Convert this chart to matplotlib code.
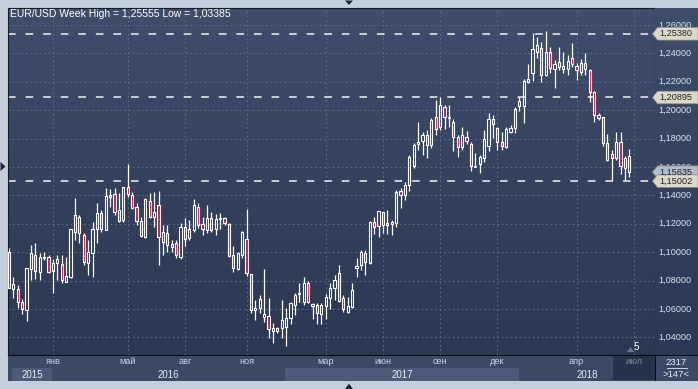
import numpy as np
import matplotlib
matplotlib.use('Agg')
import matplotlib.pyplot as plt
from matplotlib.patches import Rectangle, Polygon
from matplotlib.colors import LinearSegmentedColormap

plt.rcParams['font.family'] = ['Liberation Sans', 'DejaVu Sans']

# ---------------- data (weekly EUR/USD candles) ----------------
opens = [1.1000, 1.0738, 1.0738, 1.0647, 1.0593, 1.0879, 1.0978, 1.0863, 1.0962, 1.0969,
         1.0870, 1.0922, 1.0915, 1.0793, 1.0823, 1.1145, 1.1246, 1.1121, 1.0922, 1.0992,
         1.1161, 1.1274, 1.1156, 1.1391, 1.1410, 1.1297, 1.1227, 1.1457, 1.1403, 1.1316,
         1.1220, 1.1109, 1.1360, 1.1250, 1.1332, 1.1074, 1.1133, 1.1058, 1.1062, 1.0964,
         1.1175, 1.1098, 1.1156, 1.1316, 1.1198, 1.1156, 1.1238, 1.1161, 1.1231, 1.1238,
         1.1199, 1.0980, 1.0879, 1.0980, 1.1091, 1.0846, 1.0593, 1.0605, 1.0541, 1.0551,
         1.0447, 1.0447, 1.0464, 1.0476, 1.0535, 1.0629, 1.0703, 1.0652, 1.0786, 1.0621,
         1.0628, 1.0565, 1.0621, 1.0680, 1.0745, 1.0851, 1.0675, 1.0581, 1.0612, 1.0886,
         1.0910, 1.0997, 1.0926, 1.1215, 1.1185, 1.1285, 1.1192, 1.1199, 1.1203, 1.1431,
         1.1403, 1.1473, 1.1608, 1.1763, 1.1786, 1.1826, 1.1755, 1.1950, 1.1880, 1.2020,
         1.1943, 1.1919, 1.1809, 1.1743, 1.1809, 1.1760, 1.1601, 1.1621, 1.1661, 1.1750,
         1.1936, 1.1877, 1.1774, 1.1738, 1.1849, 1.1872, 1.2067, 1.2030, 1.2201, 1.2260,
         1.2412, 1.2436, 1.2248, 1.2412, 1.2288, 1.2342, 1.2311, 1.2288, 1.2365, 1.2314,
         1.2271, 1.2330, 1.2283, 1.2126, 1.1966, 1.1950, 1.1767, 1.1689, 1.1661, 1.1774,
         1.1595, 1.1677]
highs = [1.1027, 1.0828, 1.0769, 1.0668, 1.0890, 1.1051, 1.1067, 1.0992, 1.1002, 1.0980,
         1.0950, 1.0980, 1.0980, 1.0969, 1.1161, 1.1379, 1.1262, 1.1133, 1.1086, 1.1215,
         1.1349, 1.1297, 1.1450, 1.1443, 1.1450, 1.1415, 1.1462, 1.1621, 1.1426, 1.1349,
         1.1250, 1.1379, 1.1419, 1.1426, 1.1433, 1.1192, 1.1192, 1.1086, 1.1086, 1.1208,
         1.1239, 1.1227, 1.1372, 1.1344, 1.1250, 1.1332, 1.1285, 1.1269, 1.1278, 1.1250,
         1.1208, 1.1044, 1.1004, 1.1150, 1.1302, 1.0846, 1.0663, 1.0699, 1.0879, 1.0675,
         1.0504, 1.0476, 1.0663, 1.0605, 1.0652, 1.0715, 1.0781, 1.0828, 1.0800, 1.0640,
         1.0640, 1.0640, 1.0706, 1.0786, 1.0839, 1.0910, 1.0699, 1.0685, 1.0781, 1.0957,
         1.1016, 1.1016, 1.1222, 1.1250, 1.1290, 1.1285, 1.1297, 1.1227, 1.1438, 1.1450,
         1.1497, 1.1685, 1.1771, 1.1919, 1.1849, 1.1861, 1.1943, 1.2072, 1.2095, 1.2037,
         1.2037, 1.1936, 1.1825, 1.1884, 1.1856, 1.1779, 1.1696, 1.1685, 1.1861, 1.1978,
         1.1966, 1.1879, 1.1849, 1.1879, 1.1896, 1.2025, 1.2091, 1.2217, 1.2325, 1.2541,
         1.2518, 1.2483, 1.25555, 1.2447, 1.2354, 1.2443, 1.2412, 1.2389, 1.2476, 1.2335,
         1.2358, 1.2400, 1.2288, 1.2137, 1.1983, 1.1955, 1.1832, 1.1720, 1.1849, 1.1849,
         1.1677, 1.1724]
lows = [1.0746, 1.0675, 1.0605, 1.0565, 1.0518, 1.0804, 1.0809, 1.0804, 1.0945, 1.0851,
        1.0715, 1.0804, 1.0781, 1.0793, 1.0816, 1.1086, 1.1067, 1.0910, 1.0839, 1.0823,
        1.1062, 1.1145, 1.1156, 1.1321, 1.1262, 1.1215, 1.1215, 1.1387, 1.1302, 1.1192,
        1.1105, 1.1098, 1.1239, 1.1180, 1.0910, 1.0980, 1.1000, 1.1004, 1.0957, 1.0950,
        1.1044, 1.1086, 1.1145, 1.1168, 1.1121, 1.1133, 1.1145, 1.1121, 1.1161, 1.1192,
        1.0964, 1.0863, 1.0875, 1.0960, 1.0832, 1.0574, 1.0523, 1.0574, 1.0511, 1.0393,
        1.0358, 1.0429, 1.0393, 1.03385, 1.0494, 1.0558, 1.0652, 1.0628, 1.0640, 1.0527,
        1.0495, 1.0495, 1.0527, 1.0598, 1.0663, 1.0652, 1.0581, 1.0574, 1.0605, 1.0823,
        1.0875, 1.0839, 1.0920, 1.1128, 1.1110, 1.1133, 1.1128, 1.1121, 1.1175, 1.1314,
        1.1368, 1.1433, 1.1591, 1.1720, 1.1685, 1.1661, 1.1732, 1.1825, 1.1861, 1.1865,
        1.1884, 1.1715, 1.1668, 1.1720, 1.1762, 1.1574, 1.1598, 1.1556, 1.1638, 1.1716,
        1.1802, 1.1720, 1.1720, 1.1731, 1.1842, 1.1837, 1.1997, 1.1912, 1.2189, 1.2206,
        1.2365, 1.2201, 1.2241, 1.2260, 1.2154, 1.2283, 1.2260, 1.2248, 1.2307, 1.2213,
        1.2248, 1.2248, 1.2060, 1.1919, 1.1931, 1.1748, 1.1644, 1.1508, 1.1649, 1.1548,
        1.1508, 1.1527]
closes = [1.0750, 1.0776, 1.0652, 1.0597, 1.0886, 1.0992, 1.0870, 1.0964, 1.0969, 1.0863,
          1.0926, 1.0950, 1.0804, 1.0832, 1.1161, 1.1262, 1.1133, 1.0933, 1.1004, 1.1161,
          1.1274, 1.1161, 1.1396, 1.1403, 1.1286, 1.1222, 1.1462, 1.1410, 1.1309, 1.1222,
          1.1114, 1.1372, 1.1250, 1.1285, 1.1109, 1.1145, 1.1051, 1.1034, 1.0977, 1.1175,
          1.1091, 1.1161, 1.1333, 1.1192, 1.1161, 1.1238, 1.1156, 1.1231, 1.1238, 1.1203,
          1.0973, 1.0886, 1.0992, 1.1145, 1.0856, 1.0593, 1.0605, 1.0668, 1.0565, 1.0457,
          1.0464, 1.0464, 1.0523, 1.0535, 1.0645, 1.0699, 1.0710, 1.0786, 1.0652, 1.0635,
          1.0570, 1.0628, 1.0682, 1.0745, 1.0804, 1.0659, 1.0598, 1.0621, 1.0734, 1.0903,
          1.1004, 1.0933, 1.1215, 1.1180, 1.1290, 1.1192, 1.1203, 1.1215, 1.1426, 1.1403,
          1.1473, 1.1673, 1.1755, 1.1779, 1.1826, 1.1755, 1.1931, 1.1865, 1.2037, 1.1950,
          1.1950, 1.1814, 1.1739, 1.1826, 1.1786, 1.1609, 1.1609, 1.1668, 1.1795, 1.1936,
          1.1900, 1.1774, 1.1750, 1.1868, 1.1872, 1.2006, 1.2030, 1.2206, 1.2217, 1.2429,
          1.2459, 1.2248, 1.2408, 1.2295, 1.2323, 1.2307, 1.2288, 1.2349, 1.2323, 1.2283,
          1.2330, 1.2288, 1.2131, 1.1966, 1.1943, 1.1771, 1.1649, 1.1661, 1.1774, 1.1609,
          1.1661, 1.1567]

level_lines = [1.25380, 1.20895, 1.15002]
current_price = 1.15635
price_ticks = [1.04, 1.06, 1.08, 1.10, 1.12, 1.14, 1.16, 1.18, 1.20, 1.22, 1.24, 1.26]
month_pos = [10, 27, 40, 54, 72, 85, 98, 111, 129, 142]
month_labels = ['янв', 'май', 'авг', 'ноя', 'мар', 'июн', 'сен', 'дек', 'апр', 'июл']
year_labels = ['2015', '2016', '2017', '2018']
year_bounds = [0.6, 9.8, 62.7, 115.9, 146.8]
bars_count = '>147<'
counter = '2317'

# ---------------- layout ----------------
W, H = 698, 389
fig = plt.figure(figsize=(W / 100, H / 100), dpi=100)
fig.patch.set_facecolor('#c5cfdb')


def box(x0, y0, x1, y1):
    return [x0 / W, 1 - y1 / H, (x1 - x0) / W, (y1 - y0) / H]


ax = fig.add_axes(box(8, 8, 655, 355))
axr = fig.add_axes(box(655, 8, 698, 355))
axb = fig.add_axes(box(8, 355, 655, 381))
axc = fig.add_axes(box(655, 355, 698, 381))

YLIM = (1.02761, 1.27197)
XLIM = (-0.227, 146.82)

grad = LinearSegmentedColormap.from_list('g', ['#3f4e6b', '#34425e', '#2b3853'])
for a in (ax, axr):
    a.imshow(np.linspace(0, 1, 256).reshape(-1, 1), extent=[0, 1, 0, 1],
             transform=a.transAxes, cmap=grad, aspect='auto', zorder=0,
             interpolation='bilinear')

ax.set_xlim(*XLIM)
ax.set_ylim(*YLIM)
axr.set_xlim(0, 1)
axr.set_ylim(*YLIM)

# grid
grid_kw = dict(color='#5b6b88', lw=0.8, ls=(0, (1.5, 2.5)), zorder=1)
for p in price_ticks:
    ax.axhline(p, **grid_kw)
for m in month_pos:
    ax.axvline(m, **grid_kw)

# dashed level lines
for lv in level_lines:
    ax.axhline(lv, color='#f2f2f2', lw=1.1, ls=(0, (5, 6.5)), zorder=2)

# candles
bw = 0.5
red = '#e3123c'
for i, (o, h, l, c) in enumerate(zip(opens, highs, lows, closes)):
    top, bot = max(o, c), min(o, c)
    ax.vlines(i, top, h, color='white', lw=0.9, zorder=3)
    ax.vlines(i, l, bot, color='white', lw=0.9, zorder=3)
    up = c >= o
    ax.add_patch(Rectangle((i - bw / 2, bot), bw, max(top - bot, 0.0002),
                           facecolor='none' if up else red, edgecolor='white',
                           lw=0.8, zorder=4))

title = 'EUR/USD Week High = {} Low = {}'.format(
    f'{max(highs):.5f}'.replace('.', ','), f'{min(lows):.5f}'.replace('.', ','))
ax.text(0.003, 0.996, title, transform=ax.transAxes, ha='left', va='top',
        color='white', fontsize=7.5, zorder=6)

ax.set_xticks([])
ax.set_yticks([])
for s in ax.spines.values():
    s.set_color('#141a26')
    s.set_linewidth(0.8)
ax.spines['right'].set_color('black')
ax.spines['bottom'].set_color('black')

# right price axis
axr.set_xticks([])
axr.set_yticks([])
for s in axr.spines.values():
    s.set_visible(False)
for p in price_ticks:
    axr.text(0.07, p, f'{p:.5f}'.replace('.', ','), ha='left', va='center',
             color='#d8e2ef', fontsize=6.6, zorder=2)

hh = 6.3 / 1420


def tag(p, fc):
    poly = Polygon([(-0.06, p), (0.06, p + hh), (1.0, p + hh), (1.0, p - hh), (0.06, p - hh)],
                   closed=True, facecolor=fc, edgecolor='#8c8c80', lw=0.5,
                   clip_on=False, zorder=5)
    axr.add_patch(poly)
    axr.text(0.1, p, f'{p:.5f}'.replace('.', ','), ha='left', va='center',
             color='#1b2438', fontsize=6.6, zorder=6, clip_on=False)


tag(level_lines[0], '#dcd8c4')
tag(level_lines[1], '#dcd8c4')
tag(current_price, '#b3bcc8')
tag(level_lines[2], '#dcd8c4')

# bottom time axis
axb.set_xlim(*XLIM)
axb.set_ylim(0, 2)
axb.set_facecolor('#3a4964')
axb.set_xticks([])
axb.set_yticks([])
for s in axb.spines.values():
    s.set_visible(False)
axb.axhline(2, color='black', lw=1.2)
for k, lab in enumerate(year_labels):
    x0, x1 = year_bounds[k], year_bounds[k + 1]
    if k % 2 == 0:
        axb.add_patch(Rectangle((x0, 0), x1 - x0, 1, facecolor='#4a5a77',
                                edgecolor='none', zorder=1))
    axb.text((x0 + x1) / 2, 0.48, lab, ha='center', va='center',
             color='#e4ebf5', fontsize=7, zorder=3)
# darker box for the current month
axb.add_patch(Rectangle((137.3, 0.05), XLIM[1] - 137.3, 1.9, facecolor='#27334b',
                        edgecolor='none', zorder=2))
for m, lab in zip(month_pos, month_labels):
    col = '#7e8ba2' if lab == month_labels[-1] else '#c9d4e4'
    axb.text(m, 1.48, lab, ha='center', va='center', color=col,
             fontsize=6.6, zorder=3)

# bottom-right counter box
axc.set_xlim(0, 1)
axc.set_ylim(0, 1)
axc.set_facecolor('#3a4964')
axc.set_xticks([])
axc.set_yticks([])
for s in axc.spines.values():
    s.set_visible(False)
axc.axhline(1, color='black', lw=1.2)
axc.axvline(0, color='black', lw=1.2)
axc.text(0.5, 0.73, counter, ha='center', va='center', color='#e4ebf5', fontsize=6.8)
axc.plot([0.27, 0.75], [0.5, 0.5], color='#c9d4e4', lw=0.7)
axc.text(0.5, 0.25, bars_count, ha='center', va='center', color='#e4ebf5', fontsize=6.8)

# small decorations
fig.text(636 / W, 1 - 347 / H, '5', ha='center', va='center', color='white',
         fontsize=7)
fig.patches.append(Polygon([(627 / W, 1 - 352 / H), (634 / W, 1 - 352 / H), (630.5 / W, 1 - 347 / H)],
                           closed=True, transform=fig.transFigure, facecolor='#6c7890',
                           edgecolor='none'))
fig.patches.append(Polygon([(345 / W, 1 - 0.5 / H), (353 / W, 1 - 0.5 / H), (349 / W, 1 - 5 / H)],
                           closed=True, transform=fig.transFigure, facecolor='#1d2636',
                           edgecolor='none'))
fig.patches.append(Polygon([(345 / W, 1 - 389 / H), (353 / W, 1 - 389 / H), (349 / W, 1 - 383.5 / H)],
                           closed=True, transform=fig.transFigure, facecolor='#1d2636',
                           edgecolor='none'))
fig.patches.append(Polygon([(0.5 / W, 1 - 162 / H), (0.5 / W, 1 - 171 / H), (5.5 / W, 1 - 166.5 / H)],
                           closed=True, transform=fig.transFigure, facecolor='#1d2636',
                           edgecolor='none'))

fig.savefig('out.png', dpi=100, facecolor=fig.get_facecolor())
